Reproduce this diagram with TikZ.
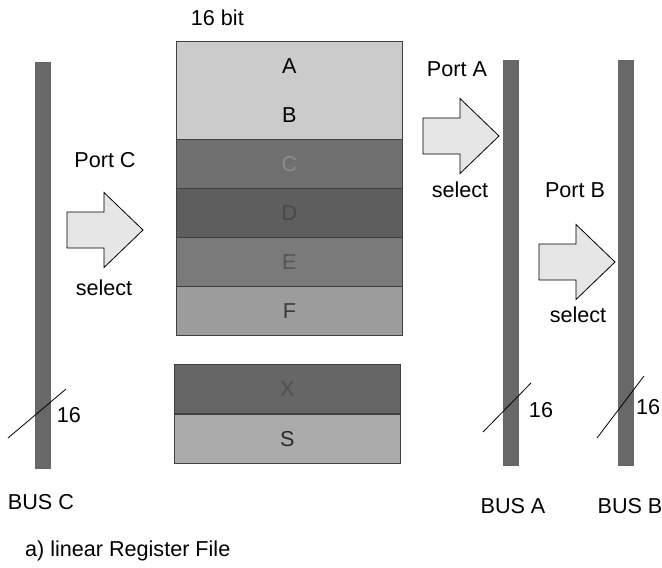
\documentclass[tikz,border=0pt]{standalone}
\usepackage{fontspec}
\setmainfont{Liberation Sans}
\usepackage{xcolor}
\usepackage{tikz}
\usetikzlibrary{positioning}

\definecolor{busgray}{HTML}{686868}
\definecolor{arrowgray}{HTML}{E6E6E6}
\definecolor{lightreg}{HTML}{CBCBCB}

\begin{document}
\begin{tikzpicture}[
    x=0.5pt, y=-0.5pt,
    every node/.style={font=\fontsize{10.8}{12}\selectfont},
    reg/.style={minimum width=113pt, minimum height=24.5pt, inner sep=0pt, anchor=north west, draw=black!75, thin},
    bus/.style={fill=busgray, draw=black!60, minimum width=7.5pt, inner sep=0pt, anchor=north},
    arrowfill/.style={fill=arrowgray, draw=black, thin},
    portarrow/.pic={
        \draw[arrowfill] (0,-18) -- (37,-18) -- (37,-37.5) -- (76,0) -- (37,37.5) -- (37,18) -- (0,18) -- cycle;
    }
]
\useasboundingbox (0,0) rectangle (662,567);

% register file
\node[reg, fill=lightreg, draw=none] (regA) at (176,41) {\raisebox{-2pt}{A}};
\node[reg, fill=lightreg, draw=none] (regB) at (176,90) {\raisebox{-2pt}{B}};
\draw[black!75, thin] (regA.north west) rectangle (regB.south east);
\node[reg, fill={rgb,255:red,112;green,112;blue,112}, text={rgb,255:red,140;green,140;blue,140}] (regC) at (176,139) {\raisebox{-2pt}{C}};
\node[reg, fill={rgb,255:red,94;green,94;blue,94}, text={rgb,255:red,72;green,72;blue,72}] (regD) at (176,188) {\raisebox{-2pt}{D}};
\node[reg, fill={rgb,255:red,122;green,122;blue,122}, text={rgb,255:red,85;green,85;blue,85}] (regE) at (176,237) {\raisebox{-2pt}{E}};
\node[reg, fill={rgb,255:red,156;green,156;blue,156}, text={rgb,255:red,60;green,60;blue,60}] (regF) at (176,286) {\raisebox{-2pt}{F}};
\node[above=4pt of regA.north, xshift=-36pt] (width) {16 bit};

\node[reg, fill={rgb,255:red,102;green,102;blue,102}, text={rgb,255:red,80;green,80;blue,80}] (regX) at (174,364) {\raisebox{-2pt}{X}};
\node[reg, fill={rgb,255:red,171;green,171;blue,171}, text={rgb,255:red,42;green,42;blue,42}] (regS) at (174,414) {\raisebox{-2pt}{S}};

% busses
\node[bus, minimum height=203pt] (busC) at (42.5,62) {};
\node[bus, minimum height=202.5pt] (busA) at (510.5,60) {};
\node[bus, minimum height=202.5pt] (busB) at (625.5,60) {};

\node (labC) at (41,502) {BUS C};
\node (labA) at (513,506) {BUS A};
\node (labB) at (630,506) {BUS B};

% ports
\node (portC) at (105,160) {Port C};
\pic at (67,230) {portarrow};
\node (selC) at (104,288) {select};

\node (portA) at (457,69) {Port A};
\pic at (423,136) {portarrow};
\node (selA) at (460,190) {select};

\node (portB) at (575,190) {Port B};
\pic at (539,262) {portarrow};
\node (selB) at (578,315) {select};

% bus width
\draw[thin] (8,438) -- (66,389);
\node (wC) at (69,415) {16};
\draw[thin] (483,432) -- (531,383);
\node (wA) at (541,410) {16};
\draw[thin] (597,438) -- (644,376);
\node (wB) at (648,407) {16};

\node[anchor=west] (caption) at (18,551) {a) linear Register File};
\end{tikzpicture}
\end{document}
